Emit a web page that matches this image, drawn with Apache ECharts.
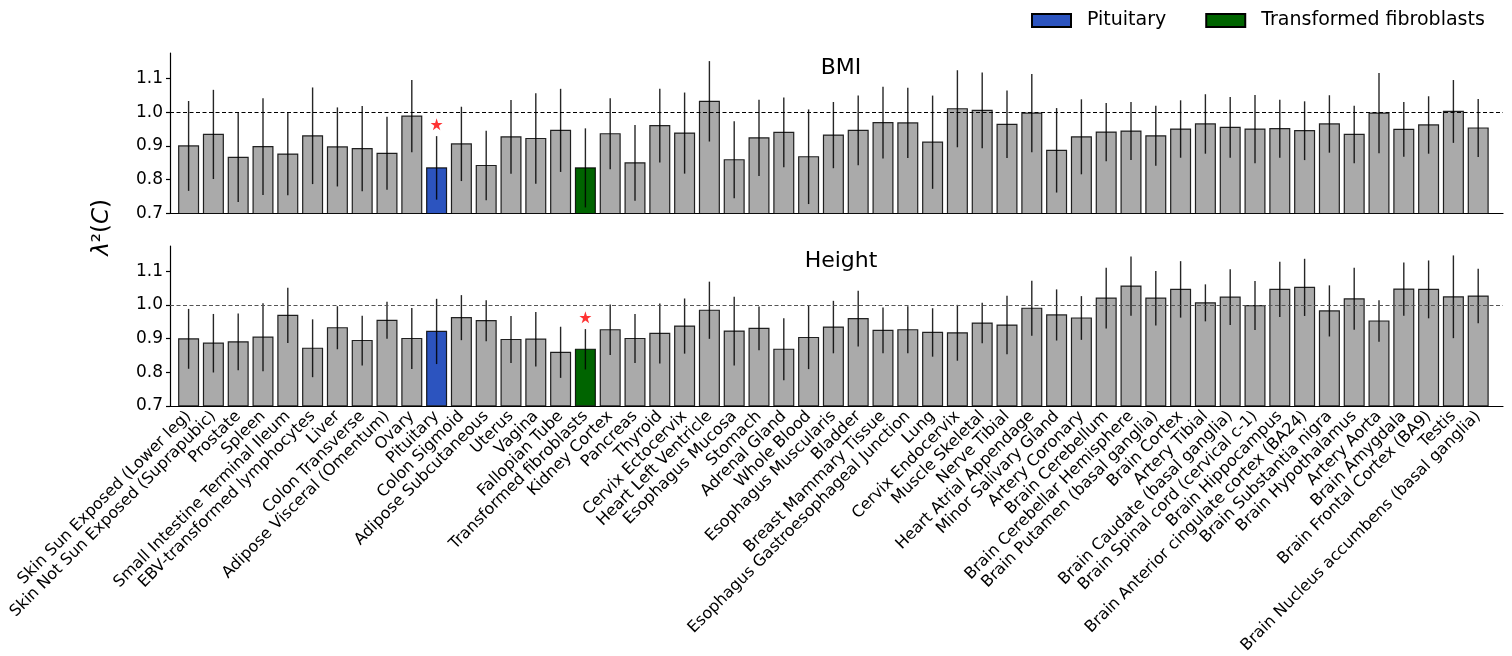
<!DOCTYPE html>
<html>
<head>
<meta charset="utf-8">
<script src="https://cdn.jsdelivr.net/npm/echarts@6/dist/echarts.min.js"></script>
<style>
html,body{margin:0;padding:0;background:#fff;}
#chart{width:1512px;height:656px;}
</style>
</head>
<body>
<div id="chart"></div>
<script>
const categories = [
  "Skin Sun Exposed (Lower leg)", "Skin Not Sun Exposed (Suprapubic)", "Prostate", "Spleen",
  "Small Intestine Terminal Ileum", "EBV-transformed lymphocytes", "Liver", "Colon Transverse",
  "Adipose Visceral (Omentum)", "Ovary", "Pituitary", "Colon Sigmoid", "Adipose Subcutaneous",
  "Uterus", "Vagina", "Fallopian Tube", "Transformed fibroblasts", "Kidney Cortex", "Pancreas",
  "Thyroid", "Cervix Ectocervix", "Heart Left Ventricle", "Esophagus Mucosa", "Stomach",
  "Adrenal Gland", "Whole Blood", "Esophagus Muscularis", "Bladder", "Breast Mammary Tissue",
  "Esophagus Gastroesophageal Junction", "Lung", "Cervix Endocervix", "Muscle Skeletal",
  "Nerve Tibial", "Heart Atrial Appendage", "Minor Salivary Gland", "Artery Coronary",
  "Brain Cerebellum", "Brain Cerebellar Hemisphere", "Brain Putamen (basal ganglia)",
  "Brain Cortex", "Artery Tibial", "Brain Caudate (basal ganglia)",
  "Brain Spinal cord (cervical c-1)", "Brain Hippocampus",
  "Brain Anterior cingulate cortex (BA24)", "Brain Substantia nigra", "Brain Hypothalamus",
  "Artery Aorta", "Brain Amygdala", "Brain Frontal Cortex (BA9)", "Testis",
  "Brain Nucleus accumbens (basal ganglia)"
];

const bmiValues = [
  0.900, 0.934, 0.866, 0.898, 0.876, 0.930, 0.897, 0.892, 0.878, 0.988,
  0.835, 0.906, 0.842, 0.927, 0.922, 0.946, 0.835, 0.936, 0.850, 0.960,
  0.938, 1.032, 0.859, 0.924, 0.940, 0.868, 0.932, 0.946, 0.969, 0.968,
  0.911, 1.010, 1.005, 0.964, 0.997, 0.887, 0.927, 0.941, 0.944, 0.930,
  0.950, 0.965, 0.955, 0.950, 0.951, 0.945, 0.965, 0.934, 0.997, 0.949,
  0.962, 1.002, 0.953
];
const bmiErrors = [
  0.133, 0.132, 0.132, 0.143, 0.122, 0.143, 0.117, 0.126, 0.108, 0.107,
  0.094, 0.110, 0.103, 0.109, 0.134, 0.123, 0.117, 0.105, 0.112, 0.109,
  0.120, 0.119, 0.114, 0.113, 0.103, 0.140, 0.098, 0.103, 0.106, 0.104,
  0.138, 0.114, 0.112, 0.100, 0.116, 0.125, 0.111, 0.086, 0.086, 0.089,
  0.085, 0.088, 0.090, 0.101, 0.086, 0.087, 0.085, 0.085, 0.119, 0.081,
  0.085, 0.093, 0.086
];
const heightValues = [
  0.899, 0.886, 0.890, 0.904, 0.969, 0.871, 0.932, 0.894, 0.954, 0.900,
  0.921, 0.962, 0.953, 0.897, 0.898, 0.859, 0.868, 0.926, 0.900, 0.915,
  0.937, 0.984, 0.922, 0.930, 0.868, 0.903, 0.934, 0.959, 0.924, 0.926,
  0.918, 0.917, 0.946, 0.940, 0.990, 0.970, 0.961, 1.020, 1.056, 1.020,
  1.046, 1.006, 1.023, 0.998, 1.046, 1.052, 0.982, 1.018, 0.952, 1.047,
  1.046, 1.024, 1.026
];
const heightErrors = [
  0.089, 0.087, 0.084, 0.101, 0.082, 0.086, 0.064, 0.074, 0.055, 0.091,
  0.097, 0.067, 0.061, 0.070, 0.081, 0.076, 0.060, 0.075, 0.073, 0.089,
  0.082, 0.085, 0.102, 0.065, 0.092, 0.094, 0.078, 0.083, 0.068, 0.070,
  0.072, 0.083, 0.060, 0.087, 0.082, 0.076, 0.065, 0.090, 0.088, 0.081,
  0.084, 0.055, 0.083, 0.073, 0.082, 0.085, 0.076, 0.092, 0.062, 0.079,
  0.086, 0.123, 0.081
];
const yTicks = [0.7, 0.8, 0.9, 1.0, 1.1];
const yMin = 0.7, yMax = 1.175;
const refLine = 1.0;
const pituitaryName = "Pituitary";
const fibroName = "Transformed fibroblasts";
const bmiStar = [[10, 0.964]];
const heightStar = [[16, 0.963]];

const FONT = "DejaVu Sans";
const GRAY = "#aaaaaa", BLUE = "#2c54bf", GREEN = "#006400";
const pitIdx = categories.indexOf(pituitaryName);
const fibIdx = categories.indexOf(fibroName);

function barData(values, errors, which) {
  const out = [];
  values.forEach((v, i) => {
    const isHl = (i === pitIdx || i === fibIdx);
    if (which === 'gray' && !isHl) out.push([i, v, errors[i]]);
    if (which === 'pit' && i === pitIdx) out.push([i, v, errors[i]]);
    if (which === 'fib' && i === fibIdx) out.push([i, v, errors[i]]);
  });
  return out;
}

function makeBarRender(color) {
  return function (params, api) {
    const x = api.value(0), v = api.value(1);
    const p0 = api.coord([x - 0.4, v]);
    const p1 = api.coord([x + 0.4, yMin]);
    return {
      type: 'rect',
      shape: { x: p0[0], y: p0[1], width: p1[0] - p0[0], height: p1[1] - p0[1] },
      style: { fill: color, stroke: 'rgba(0,0,0,0.85)', lineWidth: 1.2 }
    };
  };
}
function errRender(params, api) {
  const x = api.value(0), v = api.value(1), e = api.value(2);
  const a = api.coord([x, v - e]);
  const b = api.coord([x, v + e]);
  return {
    type: 'line',
    shape: { x1: a[0], y1: a[1], x2: b[0], y2: b[1] },
    style: { stroke: 'rgba(0,0,0,0.85)', lineWidth: 1.4 }
  };
}

const starPath = 'path://M50,0 L61.8,35.3 L99,35.3 L69,57.1 L80.4,92.5 L50,70.7 L19.6,92.5 L31,57.1 L1,35.3 L38.2,35.3 Z';

function panelSeries(gi, values, errors, star, dashColor) {
  const all = values.map((v, i) => [i, v, errors[i]]);
  return [
    { type: 'custom', name: 'other', xAxisIndex: gi, yAxisIndex: gi, renderItem: makeBarRender(GRAY),
      data: barData(values, errors, 'gray'), encode: { x: 0, y: 1 }, z: 2, silent: true },
    { type: 'custom', name: pituitaryName, xAxisIndex: gi, yAxisIndex: gi, renderItem: makeBarRender(BLUE),
      itemStyle: { color: BLUE, borderColor: '#000', borderWidth: 1 },
      data: barData(values, errors, 'pit'), encode: { x: 0, y: 1 }, z: 2, silent: true },
    { type: 'custom', name: fibroName, xAxisIndex: gi, yAxisIndex: gi, renderItem: makeBarRender(GREEN),
      itemStyle: { color: GREEN, borderColor: '#000', borderWidth: 1 },
      data: barData(values, errors, 'fib'), encode: { x: 0, y: 1 }, z: 2, silent: true },
    { type: 'custom', name: 'err', xAxisIndex: gi, yAxisIndex: gi, renderItem: errRender,
      data: all, encode: { x: 0, y: 1 }, z: 4, silent: true,
      markLine: { silent: true, symbol: 'none', label: { show: false }, animation: false,
        lineStyle: { type: [4, 2.5], color: dashColor, width: 1.2 },
        data: [{ yAxis: refLine }] } },
    { type: 'scatter', name: 'star', xAxisIndex: gi, yAxisIndex: gi, symbol: starPath,
      symbolSize: 12, itemStyle: { color: '#ff0000' }, data: star, z: 5, silent: true }
  ];
}

function yAxisDef(gi) {
  return {
    type: 'value', gridIndex: gi, min: yMin, max: yMax,
    axisLine: { show: true, onZero: false, lineStyle: { color: '#000', width: 1.2 } },
    axisTick: { show: true, length: 4, customValues: yTicks, lineStyle: { color: '#000', width: 1.2 } },
    axisLabel: { customValues: yTicks, formatter: v => v.toFixed(1), color: '#000',
      fontFamily: FONT, fontSize: 17, margin: 7 },
    splitLine: { show: false }
  };
}
function xAxisDef(gi, showLabels) {
  const idx = categories.map((_, i) => i);
  return {
    type: 'value', gridIndex: gi, min: -0.75, max: 53,
    axisLine: { show: true, onZero: false, lineStyle: { color: '#000', width: 1.2 } },
    axisTick: { show: false },
    splitLine: { show: false },
    axisLabel: showLabels ? {
      customValues: idx, formatter: v => categories[Math.round(v)], rotate: 45,
      color: '#000', fontFamily: FONT, fontSize: 16, margin: 8
    } : { show: false }
  };
}

const chart = echarts.init(document.getElementById('chart'), null, { renderer: 'canvas' });
chart.setOption({
  animation: false,
  backgroundColor: '#fff',
  grid: [
    { left: 170, right: 9, top: 53, height: 160.5 },
    { left: 170, right: 9, top: 246, height: 160 }
  ],
  title: [
    { text: 'BMI', left: 836, top: 52, textAlign: 'center',
      textStyle: { fontFamily: FONT, fontSize: 22, fontWeight: 'normal', color: '#000' } },
    { text: 'Height', left: 836, top: 245, textAlign: 'center',
      textStyle: { fontFamily: FONT, fontSize: 22, fontWeight: 'normal', color: '#000' } }
  ],
  legend: {
    data: [pituitaryName, fibroName],
    left: 1031, top: 11, padding: 0, itemWidth: 39, itemHeight: 13, itemGap: 39, icon: 'rect',
    textStyle: { fontFamily: FONT, fontSize: 19, color: '#000', padding: [0, 0, 0, 11] }
  },
  xAxis: [xAxisDef(0, false), xAxisDef(1, true)],
  yAxis: [yAxisDef(0), yAxisDef(1)],
  series: [].concat(
    panelSeries(0, bmiValues, bmiErrors, bmiStar, '#000'),
    panelSeries(1, heightValues, heightErrors, heightStar, '#555')
  ),
  graphic: [{
    type: 'text', left: 91, top: 199, rotation: Math.PI / 2,
    style: {
      text: '{i|λ}{n|²(}{i|C}{n|)}',
      rich: {
        i: { fontFamily: FONT, fontSize: 23, fontStyle: 'italic', fill: '#000' },
        n: { fontFamily: FONT, fontSize: 23, fill: '#000' }
      }
    }
  }]
});
</script>
</body>
</html>
